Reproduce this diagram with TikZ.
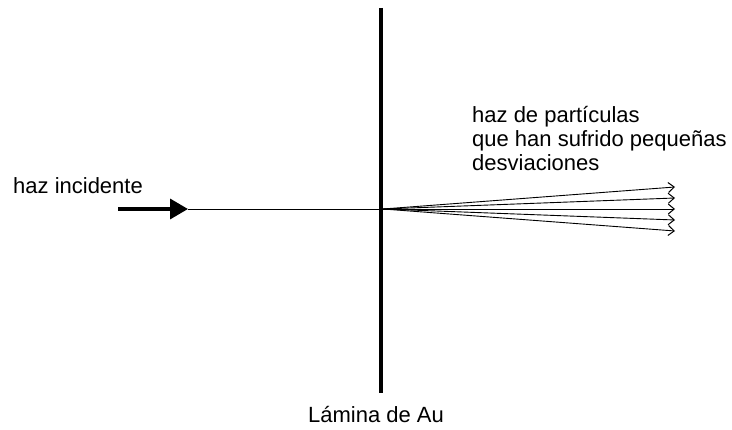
\documentclass[tikz,border=0pt]{standalone}
\usepackage{fontspec}
\setmainfont{Liberation Sans}
\usetikzlibrary{arrows.meta}
\begin{document}
\begin{tikzpicture}[x=1pt, y=-1pt,
  label/.style={font=\fontsize{22}{24}\selectfont, inner sep=0pt},
  foil/.style={line width=4pt},
  beam/.style={line width=3.5pt, -{Triangle[length=18pt,width=20pt]}},
  ray/.style={line width=0.9pt, -{Straight Barb[length=6pt,width=10pt,line width=1pt]}}]
\useasboundingbox (0,0) rectangle (732,430);
% gold foil
\coordinate (f1) at (381,8);
\coordinate (f2) at (381,393);
\draw[foil] (f1) -- (f2);
\node[label, anchor=base] (foilname) at (376,423) {Lámina de Au};
% incident beam
\coordinate (b0) at (118,209);
\coordinate (b1) at (188,209);
\coordinate (hit) at (381,209);
\draw[beam] (b0) -- (b1);
\draw[line width=0.9pt] (b1) -- (hit);
\node[label, anchor=base west] (incident) at (13,194) {haz incidente};
% scattered rays
\coordinate (o) at (383,209);
\foreach \y [count=\i] in {187,198,209,220,231}
  \coordinate (r\i) at (675,\y);
\foreach \i in {1,...,5}
  \draw[ray] (o) -- (r\i);
\node[label, anchor=north west, align=left] (scattered) at (472,106)
  {haz de partículas\\que han sufrido pequeñas\\desviaciones};
\end{tikzpicture}
\end{document}
